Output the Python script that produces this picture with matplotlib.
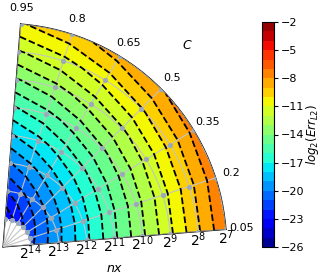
import numpy as np
import matplotlib
matplotlib.use("Agg")
from matplotlib import pyplot as plt

# grid of runs: Courant number C (angle) and resolution nx (radius)
C_vals = [0.05, 0.2, 0.35, 0.5, 0.65, 0.8, 0.95]
nx_exp = [7, 8, 9, 10, 11, 12, 13, 14]

# log2 of L2 error, one row per C value, columns follow nx_exp
err_c005 = [-7.15, -9.15, -11.2, -13.2, -15.2, -17.2, -19.2, -21.2]
err_c020 = [-7.35, -9.35, -11.4, -13.4, -15.4, -17.4, -19.4, -21.4]
err_c035 = [-7.65, -9.65, -11.7, -13.7, -15.7, -17.7, -19.7, -21.7]
err_c050 = [-8.05, -10.05, -12.1, -14.1, -16.1, -18.1, -20.1, -22.1]
err_c065 = [-8.6, -10.6, -12.6, -14.6, -16.6, -18.6, -20.6, -22.6]
err_c080 = [-9.3, -11.3, -13.3, -15.3, -17.3, -19.3, -21.3, -23.2]
err_c095 = [-10.1, -12.1, -14.1, -16.1, -18.1, -20.1, -22.0, -23.8]

err = np.array([err_c005, err_c020, err_c035, err_c050,
                err_c065, err_c080, err_c095])

theta = np.array(C_vals) * np.pi / 2
r = 15 - np.array(nx_exp)
T, R = np.meshgrid(theta, r, indexing="ij")

levels = np.arange(-26, -1, 1)

fig = plt.figure(figsize=(3.2, 2.76), dpi=100)
ax = fig.add_axes([3/320, 29/276, 223/320, 223/276], projection="polar")

cf = ax.contourf(T, R, err, levels=levels, cmap="jet", zorder=1)
ax.contour(T, R, err, levels=levels, colors="k", linestyles="dashed",
           linewidths=1.3, zorder=3)
ax.plot(T.ravel(), R.ravel(), "o", ms=3.2, mfc="#93abc4", mec="#a8a8a8",
        mew=0.6, zorder=4)

ax.set_thetamin(4.5)
ax.set_thetamax(85.5)
ax.set_rlim(0, 8)
ax.set_xticks(theta)
ax.set_xticklabels([str(c) for c in C_vals], fontsize=8)
ax.set_yticks(r)
ax.set_yticklabels([r"$2^{%d}$" % e for e in nx_exp], fontsize=8)
ax.tick_params(axis="x", pad=1)
ax.tick_params(axis="y", pad=-4.5)
ax.grid(True, color="#c4c4c4", lw=0.8)
ax.set_axisbelow(False)

fig.text(187/320, 1 - 45/276, "$C$", fontsize=9, ha="center", va="center")
fig.text(115/320, 1 - 269/276, "$nx$", fontsize=9, ha="center", va="center")

cax = fig.add_axes([262/320, 29/276, 12/320, 225/276])
cb = fig.colorbar(cf, cax=cax, ticks=np.arange(-26, -1, 3))
cb.ax.tick_params(labelsize=8, length=3, pad=2)
cb.set_label("$log_2(Err_{L2})$", fontsize=8.5, labelpad=0)

fig.savefig("out.png", dpi=100)
